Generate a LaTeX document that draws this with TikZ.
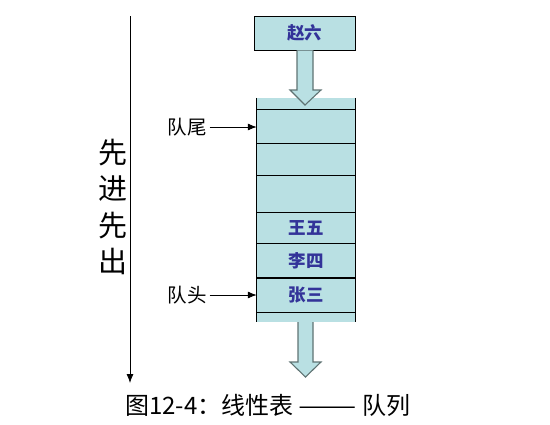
\documentclass[tikz,border=0pt]{standalone}
\usepackage{fontspec}
\newfontfamily\cjk{Noto Sans CJK SC}
\usetikzlibrary{arrows,arrows.meta,positioning}
\definecolor{qfill}{RGB}{185,224,227}
\definecolor{qtext}{RGB}{51,51,153}
\definecolor{qedge}{RGB}{95,115,115}

\begin{document}
\begin{tikzpicture}[x=1pt, y=-1pt,
    cell/.style={rectangle, fill=qfill, inner sep=0pt, minimum width=98pt, text=qtext, font=\cjk\bfseries\fontsize{17.5}{17.5}\selectfont},
    lbl/.style={font=\cjk\fontsize{19.5}{19.5}\selectfont, inner sep=3pt},
    pointer/.style={-{Latex[length=9pt,width=7pt]}, line width=0.8pt},
    blockarrow/.style={fill=qfill, draw=qedge, line width=1.1pt, line join=miter}]
    \useasboundingbox (0,0) rectangle (550,424);

    % queue column
    \node (c0) [cell, minimum height=11pt] at (306,103.5) {};
    \node (c1) [cell, minimum height=34pt] at (306,126) {};
    \node (c2) [cell, minimum height=32pt] at (306,159) {};
    \node (c3) [cell, minimum height=37pt] at (306,193.5) {};
    \node (c4) [cell, minimum height=31pt] at (306,227.5) {王五};
    \node (c5) [cell, minimum height=35pt] at (306,260.5) {李四};
    \node (c6) [cell, minimum height=34pt] at (306,295) {张三};
    \node (c7) [cell, minimum height=10pt] at (306,317) {};
    \foreach \c in {c0,c1,c2,c3,c4,c6}
        \draw[line width=0.9pt] (\c.south west) -- (\c.south east);
    \draw[line width=1.6pt] (c5.south west) -- (c5.south east);
    \draw[line width=0.9pt] (c0.north west) -- (c7.south west);
    \draw[line width=0.9pt] (c0.north east) -- (c7.south east);

    % new element
    \node (new) [cell, draw, line width=0.9pt, minimum width=101pt, minimum height=34pt] at (304.5,33) {赵六};

    % block arrows in and out
    \draw[blockarrow] (new.south -| 297,0) -- (297,90) -- (290,90) -- (305,105) -- (321,90) -- (313,90) -- (new.south -| 313,0);
    \draw[blockarrow] (c7.south -| 298,0) -- (298,362) -- (290,362) -- (305.5,377) -- (321,362) -- (313,362) -- (c7.south -| 313,0);

    % pointers
    \node (tail) [lbl] at (187,127) {队尾};
    \node (head) [lbl] at (187,295) {队头};
    \draw[pointer] (tail) -- (c1.west |- tail);
    \draw[pointer] (head) -- (c6.west |- head);

    % first in first out
    \coordinate (fifotop) at (130,16);
    \coordinate (fifobot) at (130,383);
    \draw[pointer] (fifotop) -- (fifobot);
    \node (fifo) [font=\cjk\fontsize{29}{36.5}\selectfont, align=center, inner sep=0pt] at (113,207) {先\\进\\先\\出};

    % caption
    \node (caption) [font=\cjk\fontsize{24}{24}\selectfont] at (268,405) {图12-4：线性表 \scalebox{1.45}[1]{——} 队列};
\end{tikzpicture}
\end{document}
